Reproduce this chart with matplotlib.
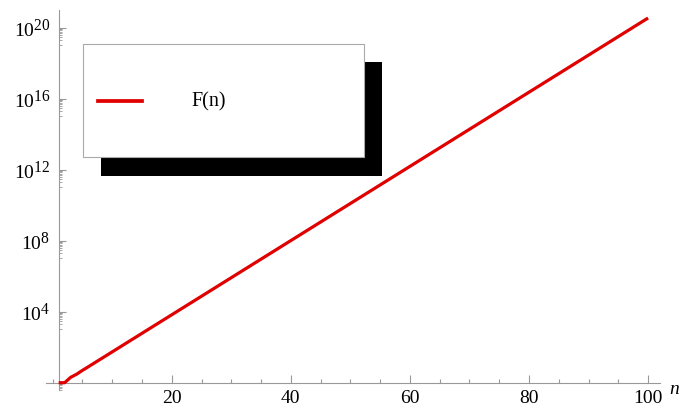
import matplotlib
matplotlib.use("Agg")
import matplotlib.pyplot as plt
import matplotlib._mathtext as _mt
from matplotlib.patches import Rectangle
from matplotlib.lines import Line2D
from matplotlib.ticker import FixedLocator, FixedFormatter, NullFormatter

plt.rcParams['font.family'] = ['Liberation Serif', 'DejaVu Serif']
plt.rcParams['mathtext.fontset'] = 'custom'
plt.rcParams['mathtext.rm'] = 'Liberation Serif'
plt.rcParams['mathtext.it'] = 'Liberation Serif:italic'
_mt.SHRINK_FACTOR = 0.8

# Data: Fibonacci numbers F(1)..F(100)
n_values = list(range(1, 101))
fib_values = [
    1, 1, 2, 3, 5, 8, 13, 21, 34, 55,
    89, 144, 233, 377, 610, 987, 1597, 2584, 4181, 6765,
    10946, 17711, 28657, 46368, 75025, 121393, 196418, 317811, 514229, 832040,
    1346269, 2178309, 3524578, 5702887, 9227465, 14930352, 24157817, 39088169, 63245986, 102334155,
    165580141, 267914296, 433494437, 701408733, 1134903170, 1836311903, 2971215073, 4807526976, 7778742049, 12586269025,
    20365011074, 32951280099, 53316291173, 86267571272, 139583862445, 225851433717, 365435296162, 591286729879, 956722026041, 1548008755920,
    2504730781961, 4052739537881, 6557470319842, 10610209857723, 17167680177565, 27777890035288, 44945570212853, 72723460248141, 117669030460994, 190392490709135,
    308061521170129, 498454011879264, 806515533049393, 1304969544928657, 2111485077978050, 3416454622906707, 5527939700884757, 8944394323791464, 14472334024676221, 23416728348467685,
    37889062373143906, 61305790721611591, 99194853094755497, 160500643816367088, 259695496911122585, 420196140727489673, 679891637638612258, 1100087778366101931, 1779979416004714189, 2880067194370816120,
    4660046610375530309, 7540113804746346429, 12200160415121876738, 19740274219868223167, 31940434634990099905, 51680708854858323072, 83621143489848422977, 135301852344706746049, 218922995834555169026, 354224848179261915075,
]
fib_values = [float(v) for v in fib_values]

x_major_ticks = [20, 40, 60, 80, 100]
x_major_labels = ['20', '40', '60', '80', '100']
x_minor_ticks = [0, 5, 10, 15, 25, 30, 35, 45, 50, 55, 65, 70, 75, 85, 90, 95]
y_major_exps = [4, 8, 12, 16, 20]
y_major_labels = [r'$10^{%d}$' % e for e in y_major_exps]
legend_label = 'F(n)'
x_axis_label = 'n'

W, H = 684, 409
fig = plt.figure(figsize=(W / 100, H / 100), dpi=100)

def fx(px):
    return px / W

def fy(py):
    return 1 - py / H

left_px, right_px, top_px, bottom_px = 46, 660, 10, 390
ax = fig.add_axes([fx(left_px), fy(bottom_px), fx(right_px) - fx(left_px), fy(top_px) - fy(bottom_px)])

red = '#e00000'
ax.plot(n_values, fib_values, color=red, lw=2.3, solid_capstyle='butt', zorder=3, clip_on=False)

ax.set_yscale('log')
ax.set_xlim(-1.13, 102.0)
ax.set_ylim(10 ** -0.41, 10 ** 21.0)

for s in ['top', 'right']:
    ax.spines[s].set_visible(False)
ax.spines['left'].set_position(('data', 1))
ax.spines['bottom'].set_position(('data', 1))
axis_gray = '#999999'
for s in ['left', 'bottom']:
    ax.spines[s].set_color(axis_gray)
    ax.spines[s].set_linewidth(0.8)

ax.xaxis.set_major_locator(FixedLocator(x_major_ticks))
ax.xaxis.set_major_formatter(FixedFormatter(x_major_labels))
ax.xaxis.set_minor_locator(FixedLocator(x_minor_ticks))
ax.xaxis.set_minor_formatter(NullFormatter())

ax.yaxis.set_major_locator(FixedLocator([10.0 ** e for e in y_major_exps]))
ax.yaxis.set_major_formatter(FixedFormatter(y_major_labels))
y_minor = []
for e in [0] + y_major_exps:
    for m in range(1, 10):
        y_minor.append(m * 10.0 ** (e - 1))
ax.yaxis.set_minor_locator(FixedLocator(y_minor))
ax.yaxis.set_minor_formatter(NullFormatter())

ax.tick_params(axis='x', which='major', direction='in', length=5.5, width=0.8, color=axis_gray,
               labelsize=14, pad=5.5, labelcolor='black')
ax.tick_params(axis='x', which='minor', direction='in', length=3.2, width=0.8, color=axis_gray)
ax.tick_params(axis='y', which='major', direction='in', length=5.2, width=0.8, color=axis_gray,
               labelsize=14, pad=6, labelcolor='black')
ax.tick_params(axis='y', which='minor', direction='in', length=2.0, width=0.6, color=axis_gray)

fig.text(fx(674), fy(389), x_axis_label, fontsize=14, style='italic', ha='center', va='center')

# Legend with drop shadow
shadow = Rectangle((fx(100.7), fy(175.7)), fx(381.7) - fx(100.7), fy(62) - fy(175.7),
                   transform=fig.transFigure, facecolor='black', edgecolor='none', zorder=10)
box = Rectangle((fx(82.7), fy(157.3)), fx(364) - fx(82.7), fy(44.3) - fy(157.3),
                transform=fig.transFigure, facecolor='white', edgecolor='#aaaaaa', lw=0.8, zorder=11)
fig.add_artist(shadow)
fig.add_artist(box)
fig.add_artist(Line2D([fx(98.3), fx(141.7)], [fy(101), fy(101)], transform=fig.transFigure,
                      color=red, lw=2.7, zorder=12))
fig.text(fx(191.5), fy(102), legend_label, fontsize=14.5, ha='left', va='center', zorder=12)

fig.savefig('out.png', dpi=100)
